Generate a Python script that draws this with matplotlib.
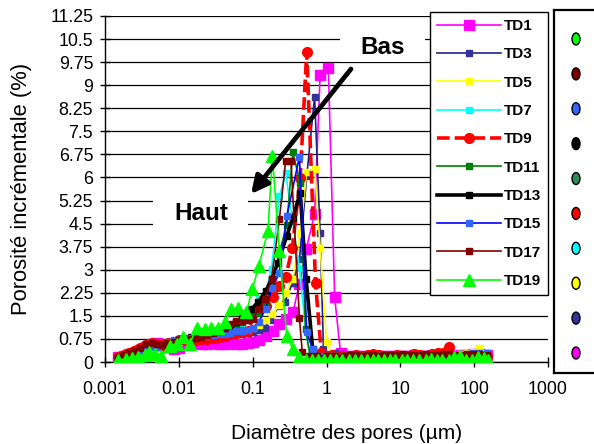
import numpy as np
import matplotlib
matplotlib.use('Agg')
import matplotlib.pyplot as plt
from matplotlib.patches import Rectangle, Ellipse

plt.rcParams['font.family'] = ['Liberation Sans', 'DejaVu Sans']

# ---------------- data ----------------
# shared diameter grids (µm)
d_low = [0.0015, 0.0018, 0.0021, 0.0025, 0.003, 0.0036, 0.0043, 0.005,
         0.006, 0.0072, 0.0086, 0.01, 0.012, 0.0145, 0.017, 0.02,
         0.024, 0.029, 0.035, 0.042, 0.05, 0.06, 0.072, 0.086]
d_high = [1.75, 2.1, 2.5, 3, 3.6, 4.3, 5.2, 6.2, 7.5, 9, 10.8, 13, 15.5, 18.5, 22,
          27, 32, 38, 46, 55, 66, 80, 95, 118, 150]

labels = ['TD1', 'TD3', 'TD5', 'TD7', 'TD9', 'TD11', 'TD13', 'TD15', 'TD17', 'TD19']

td1_low = [0.15, 0.2, 0.25, 0.3, 0.38, 0.5, 0.6, 0.62, 0.55, 0.48, 0.42, 0.45,
           0.55, 0.6, 0.62, 0.6, 0.6, 0.62, 0.6, 0.6, 0.62, 0.58, 0.6, 0.62]
td1_pd = [0.1, 0.12, 0.15, 0.19, 0.23, 0.28, 0.35, 0.43, 0.53, 0.69, 0.82, 1.06, 1.29, 1.55]
td1_pv = [0.65, 0.7, 0.84, 1.0, 1.23, 1.4, 1.61, 2.53, 3.66, 4.8, 9.34, 9.56, 2.1, 0.3]
td1_high = [0.18, 0.18, 0.2, 0.2, 0.2, 0.2, 0.2, 0.18, 0.2, 0.2, 0.2, 0.2, 0.22, 0.2, 0.2,
            0.22, 0.2, 0.22, 0.22, 0.2, 0.22, 0.22, 0.25, 0.25, 0.22]

td3_low = [0.12, 0.18, 0.22, 0.28, 0.35, 0.45, 0.55, 0.5, 0.48, 0.55, 0.6, 0.65,
           0.7, 0.72, 0.75, 0.78, 0.8, 0.82, 0.8, 0.85, 0.88, 0.9, 0.92, 0.95]
td3_pd = [0.1, 0.12, 0.145, 0.17, 0.23, 0.27, 0.35, 0.43, 0.54, 0.69, 0.82, 0.91, 1.05, 1.29, 1.55]
td3_pv = [0.98, 1.05, 1.12, 1.35, 1.83, 1.94, 2.58, 3.34, 6.04, 8.63, 4.2, 0.42, 0.2, 0.3, 0.2]
td3_high = [0.2, 0.18, 0.18, 0.2, 0.2, 0.2, 0.18, 0.2, 0.2, 0.2, 0.2, 0.2, 0.2, 0.22, 0.2,
            0.2, 0.22, 0.22, 0.2, 0.22, 0.22, 0.25, 0.28, 0.3, 0.28]

td5_low = [0.12, 0.17, 0.22, 0.28, 0.35, 0.45, 0.55, 0.5, 0.5, 0.6, 0.62, 0.65,
           0.7, 0.72, 0.75, 0.78, 0.8, 0.82, 0.85, 0.88, 0.92, 0.95, 1.0, 1.05]
td5_pd = [0.1, 0.12, 0.15, 0.185, 0.23, 0.28, 0.35, 0.44, 0.54, 0.69, 0.82, 1.0, 1.2, 1.45]
td5_pv = [1.1, 1.2, 1.35, 1.55, 1.85, 2.24, 2.69, 4.2, 6.18, 6.29, 3.72, 0.64, 0.2, 0.2]
td5_high = [0.2, 0.2, 0.2, 0.2, 0.18, 0.2, 0.2, 0.2, 0.2, 0.2, 0.2, 0.2, 0.2, 0.2, 0.22,
            0.22, 0.2, 0.2, 0.22, 0.22, 0.25, 0.28, 0.32, 0.45, 0.3]

td7_low = [0.12, 0.18, 0.22, 0.3, 0.36, 0.45, 0.55, 0.5, 0.52, 0.6, 0.65, 0.68,
           0.72, 0.75, 0.78, 0.8, 0.82, 0.85, 0.9, 0.95, 1.0, 1.1, 1.2, 1.35]
td7_pd = [0.1, 0.12, 0.15, 0.18, 0.23, 0.28, 0.43, 0.52, 0.6, 0.75, 1.0, 1.3]
td7_pv = [1.5, 2.04, 2.26, 3.02, 5.39, 6.13, 3.07, 1.07, 0.2, 0.2, 0.2, 0.2]
td7_high = [0.18, 0.18, 0.2, 0.2, 0.2, 0.18, 0.2, 0.2, 0.2, 0.2, 0.2, 0.2, 0.2, 0.2, 0.2,
            0.2, 0.22, 0.2, 0.22, 0.2, 0.22, 0.22, 0.25, 0.28, 0.25]

td9_low = [0.15, 0.22, 0.28, 0.35, 0.45, 0.55, 0.62, 0.6, 0.55, 0.62, 0.66, 0.7,
           0.72, 0.75, 0.72, 0.75, 0.75, 0.78, 0.8, 0.85, 0.9, 0.95, 0.96, 1.0]
td9_pd = [0.11, 0.15, 0.19, 0.23, 0.28, 0.345, 0.44, 0.54, 0.71, 0.85, 1.0, 1.2, 1.45]
td9_pv = [1.66, 1.83, 2.1, 2.47, 2.75, 3.72, 5.99, 10.08, 2.58, 0.3, 0.2, 0.22, 0.2]
td9_high = [0.2, 0.2, 0.22, 0.2, 0.22, 0.25, 0.22, 0.2, 0.2, 0.22, 0.2, 0.2, 0.25, 0.22, 0.2,
            0.25, 0.28, 0.3, 0.5, 0.15, 0.05, 0.15, 0.2, 0.22, 0.2]

td11_low = [0.12, 0.18, 0.25, 0.3, 0.38, 0.48, 0.55, 0.52, 0.55, 0.62, 0.65, 0.7,
            0.75, 0.78, 0.8, 0.85, 0.88, 0.92, 0.95, 1.0, 1.1, 1.2, 1.3, 1.4]
td11_pd = [0.1, 0.12, 0.15, 0.185, 0.23, 0.29, 0.35, 0.44, 0.52, 0.6, 0.75, 1.0, 1.3]
td11_pv = [1.45, 1.6, 1.9, 2.5, 3.56, 4.47, 6.82, 5.83, 1.07, 0.2, 0.2, 0.2, 0.2]
td11_high = [0.18, 0.2, 0.2, 0.2, 0.2, 0.2, 0.2, 0.2, 0.18, 0.2, 0.2, 0.2, 0.2, 0.2, 0.2,
             0.2, 0.2, 0.2, 0.2, 0.2, 0.2, 0.22, 0.22, 0.25, 0.22]

td13_low = [0.12, 0.18, 0.25, 0.3, 0.38, 0.48, 0.55, 0.52, 0.55, 0.62, 0.65, 0.7,
            0.75, 0.8, 0.85, 0.9, 0.95, 1.0, 1.05, 1.1, 1.2, 1.3, 1.45, 1.6]
td13_pd = [0.096, 0.118, 0.15, 0.18, 0.22, 0.29, 0.35, 0.44, 0.53, 0.65, 0.8, 1.0, 1.3]
td13_pv = [1.72, 1.94, 2.3, 2.69, 3.23, 4.1, 4.69, 5.5, 2.69, 0.42, 0.15, 0.15, 0.15]
td13_high = [0.15, 0.15, 0.15, 0.15, 0.15, 0.15, 0.15, 0.15, 0.15, 0.15, 0.15, 0.15, 0.15, 0.15, 0.15,
             0.15, 0.15, 0.15, 0.15, 0.15, 0.15, 0.15, 0.18, 0.2, 0.2]

td15_low = [0.1, 0.15, 0.2, 0.28, 0.35, 0.45, 0.5, 0.48, 0.55, 0.65, 0.7, 0.72,
            0.75, 0.78, 0.82, 0.85, 0.85, 0.88, 0.9, 0.92, 0.95, 1.0, 1.0, 1.05]
td15_pd = [0.1, 0.12, 0.15, 0.185, 0.23, 0.29, 0.43, 0.54, 0.65, 0.8, 1.0, 1.3]
td15_pv = [1.1, 1.3, 1.72, 2.42, 2.9, 4.74, 6.67, 0.96, 0.42, 0.2, 0.2, 0.2]
td15_high = [0.2, 0.2, 0.2, 0.2, 0.2, 0.2, 0.2, 0.2, 0.2, 0.2, 0.2, 0.2, 0.2, 0.22, 0.22,
             0.2, 0.2, 0.22, 0.22, 0.22, 0.22, 0.25, 0.28, 0.3, 0.3]

td17_low = [0.15, 0.22, 0.28, 0.35, 0.45, 0.58, 0.62, 0.58, 0.55, 0.62, 0.66, 0.7,
            0.72, 0.75, 0.78, 0.82, 0.88, 0.95, 1.0, 1.1, 1.25, 1.34, 1.34, 1.35]
td17_pd = [0.1, 0.12, 0.145, 0.18, 0.23, 0.28, 0.33, 0.43, 0.47, 0.6, 0.75, 1.0, 1.3]
td17_pv = [1.4, 1.72, 2.04, 2.69, 4.64, 6.53, 6.53, 1.42, 0.31, 0.2, 0.2, 0.2, 0.2]
td17_high = [0.2, 0.22, 0.22, 0.2, 0.22, 0.22, 0.2, 0.22, 0.22, 0.22, 0.25, 0.22, 0.22, 0.22, 0.25,
             0.22, 0.22, 0.25, 0.25, 0.22, 0.22, 0.25, 0.25, 0.25, 0.22]

td19_d = [0.0015, 0.0019, 0.0023, 0.0028, 0.0035, 0.004, 0.0047, 0.0058, 0.0076, 0.0093,
          0.0114, 0.014, 0.0174, 0.0224, 0.0276, 0.034, 0.042, 0.0515, 0.063, 0.082,
          0.099, 0.121, 0.161, 0.185, 0.23, 0.29, 0.35, 0.43, 0.52, 0.63,
          0.76, 0.92, 1.1, 1.35, 1.6, 2.0, 2.4, 2.9, 3.5, 4.2,
          5.0, 6.0, 7.2, 8.6, 10.4, 12.5, 15.0, 18.0, 22.0, 26.0,
          31.0, 37.0, 45.0, 54.0, 65.0, 78.0, 94.0, 112.0, 135.0, 155.0]
td19_v = [0.06, 0.1, 0.12, 0.15, 0.23, 0.31, 0.26, 0.18, 0.53, 0.58,
          0.8, 0.58, 1.12, 1.07, 1.12, 1.12, 1.29, 1.72, 1.77, 1.61,
          2.37, 3.12, 4.26, 6.7, 3.6, 0.85, 0.42, 0.16, 0.08, 0.06,
          0.06, 0.07, 0.06, 0.07, 0.06, 0.06, 0.07, 0.06, 0.06, 0.07,
          0.06, 0.07, 0.06, 0.06, 0.07, 0.06, 0.07, 0.06, 0.07, 0.1,
          0.08, 0.07, 0.08, 0.16, 0.18, 0.08, 0.07, 0.15, 0.14, 0.05]

y_ticks = [0, 0.75, 1.5, 2.25, 3, 3.75, 4.5, 5.25, 6, 6.75, 7.5, 8.25, 9, 9.75, 10.5, 11.25]
y_ticklabels = ['0', '0.75', '1.5', '2.25', '3', '3.75', '4.5', '5.25', '6', '6.75',
                '7.5', '8.25', '9', '9.75', '10.5', '11.25']
x_ticks = [0.001, 0.01, 0.1, 1, 10, 100, 1000]
x_ticklabels = ['0.001', '0.01', '0.1', '1', '10', '100', '1000']

key_colors = ['#00FF00', '#800000', '#3366FF', '#000000', '#2E8B57',
              '#FF0000', '#00FFFF', '#FFFF00', '#333399', '#FF00FF']

# ---------------- assemble ----------------
parts = {
    'TD1': (td1_low, td1_pd, td1_pv, td1_high),
    'TD3': (td3_low, td3_pd, td3_pv, td3_high),
    'TD5': (td5_low, td5_pd, td5_pv, td5_high),
    'TD7': (td7_low, td7_pd, td7_pv, td7_high),
    'TD9': (td9_low, td9_pd, td9_pv, td9_high),
    'TD11': (td11_low, td11_pd, td11_pv, td11_high),
    'TD13': (td13_low, td13_pd, td13_pv, td13_high),
    'TD15': (td15_low, td15_pd, td15_pv, td15_high),
    'TD17': (td17_low, td17_pd, td17_pv, td17_high),
}

styles = {
    'TD1': dict(color='#FF00FF', marker='s', ms=7, lw=1.2),
    'TD3': dict(color='#1F1F8F', mfc='#333399', mec='#333399', marker='s', ms=4.5, lw=1.2),
    'TD5': dict(color='#FFFF00', marker='s', ms=5, lw=1.2),
    'TD7': dict(color='#00FFFF', marker='s', ms=5, lw=1.2),
    'TD9': dict(color='#FF0000', marker='o', ms=7, lw=2.6, ls=(0, (3.5, 1.4))),
    'TD11': dict(color='#008000', marker='s', ms=5, lw=1.2),
    'TD13': dict(color='#000000', marker='s', ms=4.5, lw=2.6),
    'TD15': dict(color='#0000FF', mfc='#3366FF', mec='#3366FF', marker='s', ms=5, lw=1.2),
    'TD17': dict(color='#800000', marker='s', ms=5, lw=1.2),
    'TD19': dict(color='#00FF00', marker='^', ms=8, lw=1.2),
}

W, H = 594, 444
fig = plt.figure(figsize=(W / 100, H / 100), dpi=100)
ax = fig.add_axes([105 / W, 1 - 362 / H, 443 / W, 346 / H])

handles = []
for lab in labels:
    if lab == 'TD19':
        xd, yd = td19_d, td19_v
    else:
        lo, pd_, pv_, hi = parts[lab]
        xd = d_low + pd_ + d_high
        yd = lo + pv_ + hi
    st = dict(styles[lab])
    if 'mfc' not in st:
        st['mfc'] = st['color']
        st['mec'] = st['color']
    h, = ax.plot(xd, yd, label=lab, zorder=3, **st)
    handles.append(h)

ax.set_xscale('log')
ax.set_xlim(0.001, 1000)
ax.set_ylim(0, 11.25)
ax.set_yticks(y_ticks)
ax.set_yticklabels(y_ticklabels)
ax.set_xticks(x_ticks)
ax.set_xticklabels(x_ticklabels)
ax.minorticks_off()
ax.tick_params(axis='both', direction='inout', length=7, width=1, color='black',
               labelsize=12.8)
ax.tick_params(axis='x', pad=10)
ax.tick_params(axis='y', pad=5)
ax.yaxis.grid(True, color='black', lw=0.9)
ax.set_axisbelow(True)
for s in ['top', 'right']:
    ax.spines[s].set_visible(False)
for s in ['left', 'bottom']:
    ax.spines[s].set_linewidth(1.0)
    ax.spines[s].set_color('black')

# white boxes behind annotation texts
ax.add_patch(Rectangle(((340 - 105) / 443, (362 - 62) / 346), 85 / 443, 34 / 346,
                       transform=ax.transAxes, facecolor='white', edgecolor='none', zorder=2))
ax.add_patch(Rectangle(((153 - 105) / 443, (362 - 226) / 346), 95 / 443, 28 / 346,
                       transform=ax.transAxes, facecolor='white', edgecolor='none', zorder=2))
ax.text((383 - 105) / 443, (362 - 47) / 346, 'Bas', transform=ax.transAxes,
        ha='center', va='center', fontsize=17.5, fontweight='bold', zorder=6)
ax.text((201 - 105) / 443, (362 - 213) / 346, 'Haut', transform=ax.transAxes,
        ha='center', va='center', fontsize=17.5, fontweight='bold', zorder=6)
ax.annotate('', xy=((251 - 105) / 443, (362 - 194) / 346),
            xytext=((351 - 105) / 443, (362 - 69) / 346),
            xycoords='axes fraction', textcoords='axes fraction',
            arrowprops=dict(arrowstyle='-|>', lw=3.4, color='black',
                            mutation_scale=26, shrinkA=0, shrinkB=0), zorder=7)

leg = ax.legend(handles=handles, loc='upper left',
                bbox_to_anchor=(430 / W, 1 - 12 / H), bbox_transform=fig.transFigure,
                prop=dict(weight='bold', size=11), frameon=True, fancybox=False,
                framealpha=1, edgecolor='black', handlelength=4.2, handletextpad=0.2,
                labelspacing=0.94, borderpad=0.45, borderaxespad=0, numpoints=1)
leg.get_frame().set_linewidth(1.0)
leg.set_zorder(10)

fig.text(22 / W, 1 - 189 / H, 'Porosité incrémentale (%)', rotation=90,
         ha='center', va='center', fontsize=15.8)
fig.text(347 / W, 1 - 433 / H, 'Diamètre des pores (µm)', ha='center', va='center',
         fontsize=15)

# side key with coloured ellipses
kx = fig.add_axes([554 / W, 1 - 373 / H, 120 / W, 363 / H])
kx.set_xlim(0, 120)
kx.set_ylim(363, 0)
kx.set_xticks([])
kx.set_yticks([])
for s in kx.spines.values():
    s.set_linewidth(1.6)
    s.set_color('black')
ey = np.linspace(29, 343, len(key_colors))
for c, yy in zip(key_colors, ey):
    kx.add_patch(Ellipse((22, yy), 8, 12, facecolor=c, edgecolor='black', lw=1.0))

fig.savefig('out.png', dpi=100)
